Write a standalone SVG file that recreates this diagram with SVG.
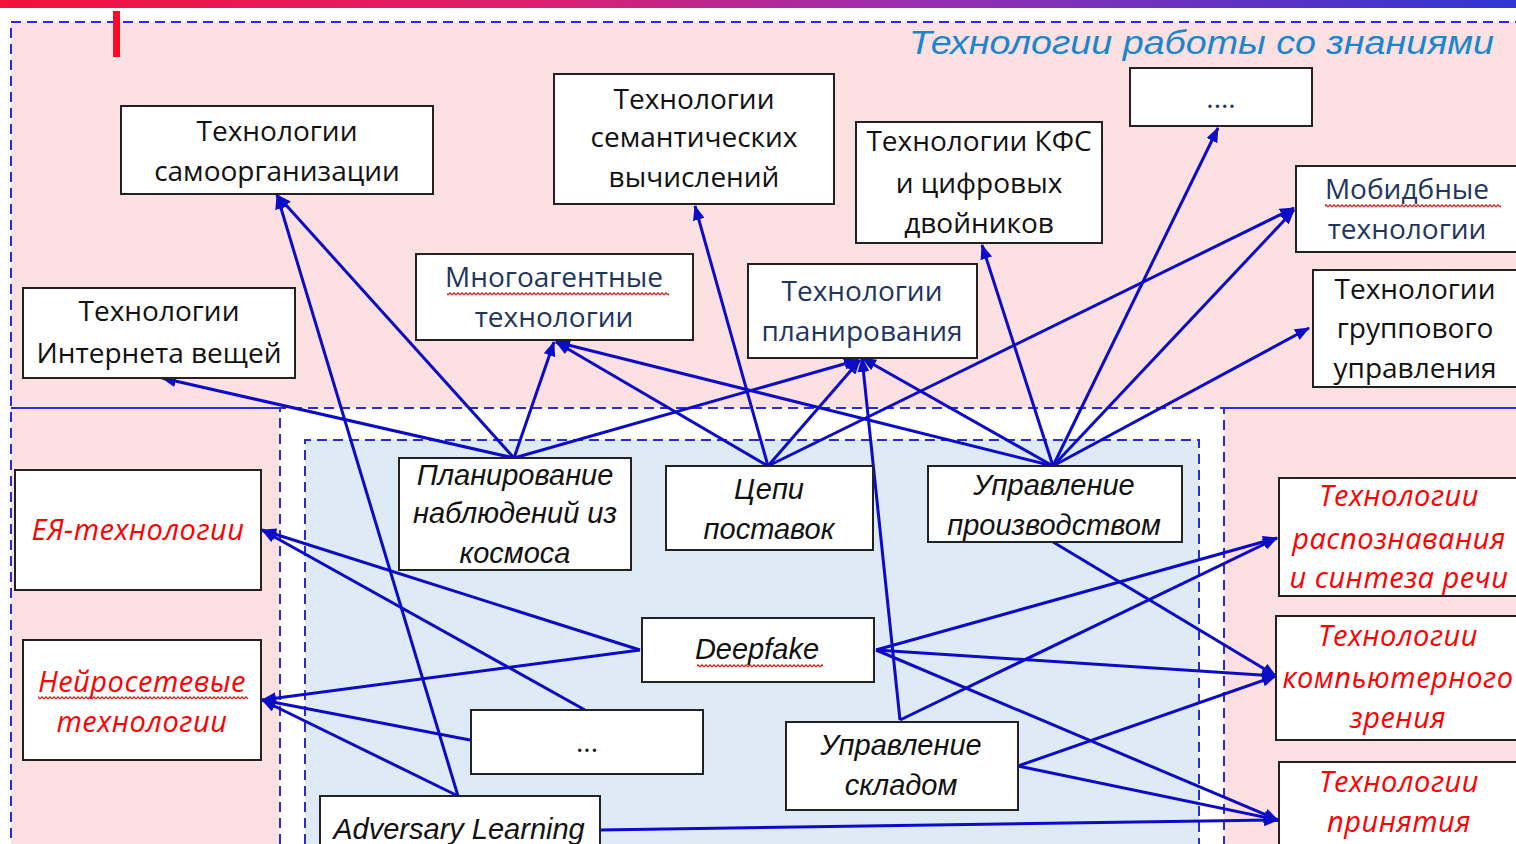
<svg xmlns="http://www.w3.org/2000/svg" width="1516" height="844" viewBox="0 0 1516 844">
<defs>
<linearGradient id="topbar" x1="0" y1="0" x2="1" y2="0">
<stop offset="0" stop-color="#f2123a"/>
<stop offset="0.35" stop-color="#dc1f6e"/>
<stop offset="0.6" stop-color="#9a2eb0"/>
<stop offset="1" stop-color="#2f36d2"/>
</linearGradient>
<pattern id="wave" x="0" y="0" width="4" height="4" patternUnits="userSpaceOnUse">
<path d="M0,3 L2,0.8 L4,3" fill="none" stroke="#e02020" stroke-width="1.2"/>
</pattern>
<marker id="arr" markerWidth="15" markerHeight="12" refX="14" refY="6" orient="auto" markerUnits="userSpaceOnUse">
<path d="M0,0 L15,6 L0,12 z" fill="#0b0bc8"/>
</marker>
<style>
.box{fill:#fff;stroke:#222;stroke-width:2}
.up{font-family:"Open Sans","Liberation Sans",sans-serif;font-size:28px;text-anchor:middle;fill:#111}
.navy{fill:#1f3560}
.it{font-family:"Liberation Sans",Arial,sans-serif;font-style:italic;font-size:29px;text-anchor:middle;fill:#111}
.red{font-family:"Open Sans","Liberation Sans",sans-serif;font-style:italic;font-size:29px;text-anchor:middle;fill:#ff0000;letter-spacing:0.5px}
.e{stroke:#0b0bc8;stroke-width:3;fill:none;marker-end:url(#arr)}
.wavy{fill:url(#wave)}
.dash{fill:none;stroke:#2a2ad8;stroke-width:2;stroke-dasharray:10 6}
</style>
</defs>
<rect x="0" y="0" width="1516" height="844" fill="#fff"/>
<rect x="0" y="0" width="1516" height="8" fill="url(#topbar)"/>
<g id="background">
<rect x="11" y="22" width="1520" height="840" fill="#fde0e1"/>
<rect x="11" y="22" width="1520" height="840" class="dash"/>
<rect x="280" y="408" width="944" height="450" fill="#fff"/>
<path d="M280,844 L280,408 L1224,408 L1224,844" class="dash" stroke-width="1.5"/>
<rect x="305" y="440" width="894" height="420" fill="#deebf7"/>
<path d="M305,844 L305,440 L1199,440 L1199,844" class="dash" stroke-width="1.5"/>
<line x1="11" y1="408" x2="280" y2="408" stroke="#2a2ad8" stroke-width="2"/>
<line x1="1224" y1="408" x2="1516" y2="408" stroke="#2a2ad8" stroke-width="2"/>
<rect x="113" y="11" width="7" height="46" fill="#ff0824"/>
<text x="1494" y="54" font-family="Liberation Sans, Arial, sans-serif" font-style="italic" font-size="34" fill="#1b86d0" text-anchor="end" textLength="585" lengthAdjust="spacingAndGlyphs">Технологии работы со знаниями</text>
</g>
<g id="connectors">
<path class="e" d="M514,458 L162,378"/>
<path class="e" d="M514,458 L277,195"/>
<path class="e" d="M514,458 L554,342"/>
<path class="e" d="M514,458 L858,360"/>
<path class="e" d="M768,466 L695,206"/>
<path class="e" d="M768,466 L556,342"/>
<path class="e" d="M768,466 L860,360"/>
<path class="e" d="M768,466 L1294,208"/>
<path class="e" d="M1053,466 L982,245"/>
<path class="e" d="M1053,466 L1218,128"/>
<path class="e" d="M1053,466 L1294,210"/>
<path class="e" d="M1053,466 L1309,328"/>
<path class="e" d="M1053,466 L862,358"/>
<path class="e" d="M1053,466 L556,342"/>
<path class="e" d="M1053,542 L1276,676"/>
<path class="e" d="M876,650 L1277,538"/>
<path class="e" d="M876,650 L1276,676"/>
<path class="e" d="M876,650 L1278,820"/>
<path class="e" d="M640,650 L262,530"/>
<path class="e" d="M640,650 L262,700"/>
<path class="e" d="M585,710 L262,530"/>
<path class="e" d="M470,740 L262,700"/>
<path class="e" d="M458,796 L277,195"/>
<path class="e" d="M458,796 L262,700"/>
<path class="e" d="M600,830 L1278,820"/>
<path class="e" d="M900,720 L862,358"/>
<path class="e" d="M900,720 L1277,538"/>
<path class="e" d="M1018,766 L1276,676"/>
<path class="e" d="M1018,766 L1278,820"/>
</g>
<g id="n1"><rect class="box" x="121" y="106" width="312" height="88"/><text class="up" x="277" y="141">Технологии</text><text class="up" x="277" y="181">самоорганизации</text></g>
<g id="n2"><rect class="box" x="554" y="74" width="280" height="130"/><text class="up" x="694" y="109">Технологии</text><text class="up" x="694" y="147">семантических</text><text class="up" x="694" y="187">вычислений</text></g>
<g id="n3"><rect class="box" x="1130" y="68" width="182" height="58"/><text class="up navy" x="1221" y="108" font-size="20">....</text></g>
<g id="n4"><rect class="box" x="856" y="122" width="246" height="121"/><text class="up" x="979" y="151">Технологии КФС</text><text class="up" x="979" y="193">и цифровых</text><text class="up" x="979" y="233">двойников</text></g>
<g id="n5"><rect class="box" x="1296" y="166" width="230" height="86"/><text class="up navy" x="1407" y="199">Мобидбные</text><rect class="wavy" x="1325" y="204" width="176" height="4"/><text class="up navy" x="1407" y="239">технологии</text></g>
<g id="n6"><rect class="box" x="1313" y="270" width="210" height="117"/><text class="up" x="1415" y="299">Технологии</text><text class="up" x="1415" y="338">группового</text><text class="up" x="1415" y="378">управления</text></g>
<g id="n7"><rect class="box" x="23" y="288" width="272" height="90"/><text class="up" x="159" y="321">Технологии</text><text class="up" x="159" y="363">Интернета вещей</text></g>
<g id="n8"><rect class="box" x="416" y="254" width="277" height="86"/><text class="up navy" x="554" y="287">Многоагентные</text><rect class="wavy" x="447" y="292" width="222" height="4"/><text class="up navy" x="554" y="327">технологии</text></g>
<g id="n9"><rect class="box" x="748" y="264" width="229" height="94"/><text class="up navy" x="862" y="301">Технологии</text><text class="up navy" x="862" y="341">планирования</text></g>
<g id="n10"><rect class="box" x="399" y="458" width="232" height="112"/><text class="it" x="515" y="485">Планирование</text><text class="it" x="515" y="523">наблюдений из</text><text class="it" x="515" y="563">космоса</text></g>
<g id="n11"><rect class="box" x="666" y="466" width="207" height="84"/><text class="it" x="769" y="499">Цепи</text><text class="it" x="769" y="539">поставок</text></g>
<g id="n12"><rect class="box" x="928" y="466" width="254" height="76"/><text class="it" x="1054" y="495">Управление</text><text class="it" x="1054" y="535">производством</text></g>
<g id="n13"><rect class="box" x="15" y="470" width="246" height="120"/><text class="red" x="138" y="540">ЕЯ-технологии</text></g>
<g id="n14"><rect class="box" x="1279" y="478" width="245" height="118"/><text class="red" x="1399" y="506">Технологии</text><text class="red" x="1399" y="549">распознавания</text><text class="red" x="1399" y="588">и синтеза речи</text></g>
<g id="n15"><rect class="box" x="23" y="640" width="238" height="120"/><text class="red" x="142" y="692">Нейросетевые</text><rect class="wavy" x="38" y="696" width="210" height="4"/><text class="red" x="142" y="732">технологии</text></g>
<g id="n16"><rect class="box" x="642" y="618" width="232" height="64"/><text class="it" x="757" y="659">Deepfake</text><rect class="wavy" x="697" y="664" width="126" height="4"/></g>
<g id="n17"><rect class="box" x="471" y="710" width="232" height="64"/><text class="up" x="587" y="752" font-size="20">...</text></g>
<g id="n18"><rect class="box" x="786" y="722" width="232" height="88"/><text class="it" x="901" y="755">Управление</text><text class="it" x="901" y="795">складом</text></g>
<g id="n19"><rect class="box" x="320" y="796" width="280" height="70"/><text class="it" x="459" y="839">Adversary Learning</text></g>
<g id="n20"><rect class="box" x="1276" y="616" width="250" height="124"/><text class="red" x="1398" y="646">Технологии</text><text class="red" x="1398" y="688">компьютерного</text><text class="red" x="1398" y="728">зрения</text></g>
<g id="n21"><rect class="box" x="1279" y="762" width="245" height="100"/><text class="red" x="1399" y="792">Технологии</text><text class="red" x="1399" y="832">принятия</text></g>
</svg>
